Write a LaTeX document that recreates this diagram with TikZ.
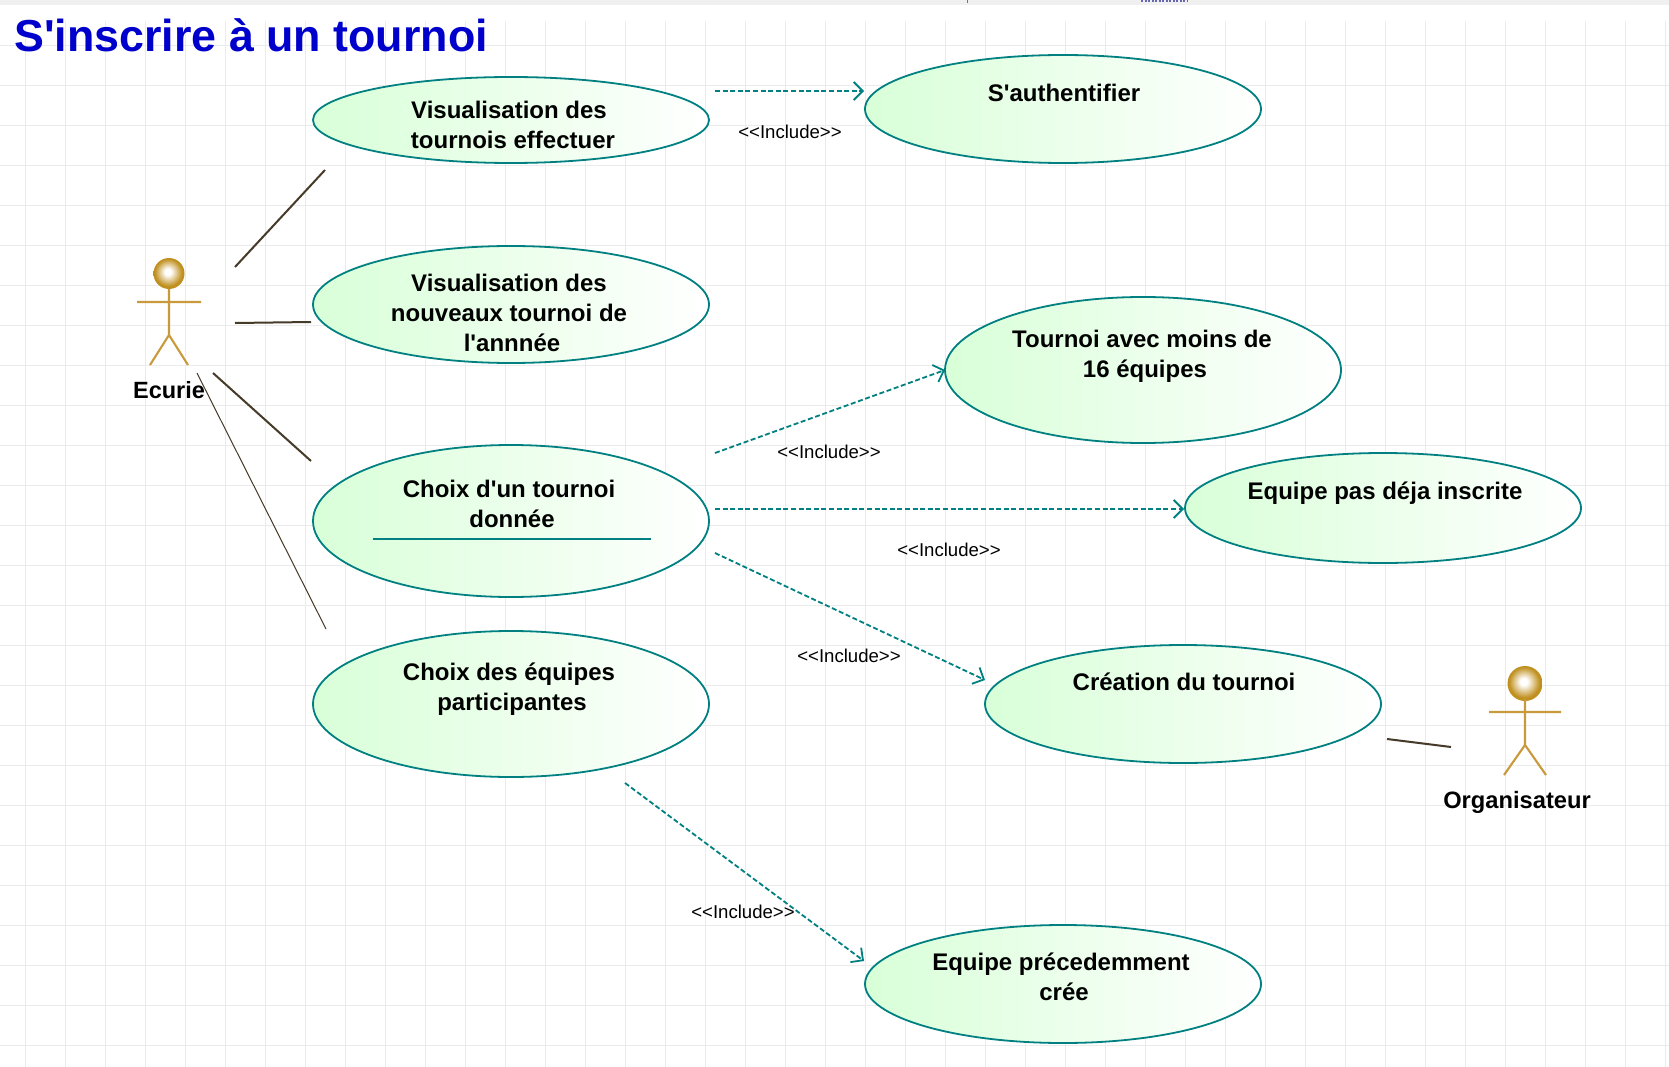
\documentclass[tikz,border=0pt]{standalone}
\usepackage{fontspec}
\setmainfont[Ligatures=TeXOff]{Liberation Sans}
\usetikzlibrary{arrows.meta,shapes.geometric}
\definecolor{teal1}{HTML}{008080}
\definecolor{gridc}{HTML}{EBEBEB}
\definecolor{gold1}{HTML}{C89A3C}
\definecolor{ball1}{HTML}{C0901F}
\definecolor{dark1}{HTML}{463A28}
\definecolor{green1}{HTML}{D8FFD8}
\definecolor{title1}{HTML}{0000CC}
\pgfdeclareradialshading{ballshade}{\pgfpoint{-2bp}{3bp}}{color(0bp)=(white); color(5bp)=(white); color(22bp)=(ball1); color(50bp)=(ball1)}
\tikzset{
  usecase/.style={ellipse,draw=teal1,line width=1.8pt,left color=green1,right color=white,inner sep=0pt},
  utext/.style={font=\fontsize{24}{24}\bfseries\selectfont,text=black,inner sep=0pt,text height=17pt,text depth=5pt},
  inclabel/.style={font=\fontsize{18.6}{18.6}\selectfont,text=black,inner sep=0pt},
  assoc/.style={draw=dark1,line width=2pt},
  assocthin/.style={draw=dark1,line width=1pt},
  incl/.style={draw=teal1,line width=1.8pt,dash pattern=on 5pt off 2.6pt,-{Straight Barb[length=9pt,width=18pt,line width=1.8pt]}},
  actorline/.style={draw=gold1,line width=2.1pt},
  actorhead/.style={circle,draw=none,shading=ballshade,inner sep=0pt},
}
\begin{document}
\begin{tikzpicture}[x=1pt,y=-1pt]
\useasboundingbox (0,0) rectangle (1669,1067);
\fill[white] (0,0) rectangle (1669,1067);
\fill[black!6] (0,0) rectangle (1669,5);
\draw[black!55,line width=0.8pt] (967,0) -- (967,3);
\draw[blue!50!black!60,line width=2pt,dash pattern=on 2pt off 1.5pt] (1141,1) -- (1188,1);
% grid
\foreach \gx in {25,65,...,1665} \draw[gridc,line width=0.8pt] (\gx,21) -- (\gx,1067);
\foreach \gy in {45,85,...,1045} \draw[gridc,line width=0.8pt] (0,\gy) -- (1669,\gy);
% title
\node[anchor=base west,inner sep=0pt,text=title1,font=\fontsize{44.8}{44.8}\bfseries\selectfont] (title) at (14,51.5) {S'inscrire à un tournoi};
% use cases
\node[usecase,minimum width=396pt,minimum height=86pt] (uc1) at (511,120) {};
\node[usecase,minimum width=396pt,minimum height=117pt] (uc2) at (511,304.5) {};
\node[usecase,minimum width=396pt,minimum height=152pt] (uc3) at (511,521) {};
\node[usecase,minimum width=396pt,minimum height=146pt] (uc4) at (511,704) {};
\node[usecase,minimum width=396pt,minimum height=108pt] (uc5) at (1063,109) {};
\node[usecase,minimum width=396pt,minimum height=146pt] (uc6) at (1143,370) {};
\node[usecase,minimum width=396pt,minimum height=110pt] (uc7) at (1383,508) {};
\node[usecase,minimum width=396pt,minimum height=118pt] (uc8) at (1183,704) {};
\node[usecase,minimum width=396pt,minimum height=118pt] (uc9) at (1063,984) {};
% texts
\node[utext] (t1a) at (509,112.5) {Visualisation des};
\node[utext] (t1b) at (513,142.5) {tournois effectuer};
\node[utext] (t2a) at (509,285) {Visualisation des};
\node[utext] (t2b) at (509,315) {nouveaux tournoi de};
\node[utext] (t2c) at (512,345) {l'annnée};
\node[utext] (t3a) at (509,491) {Choix d'un tournoi};
\node[utext] (t3b) at (512,521) {donnée};
\node[utext] (t4a) at (509,674.5) {Choix des équipes};
\node[utext] (t4b) at (512,704.5) {participantes};
\node[utext] (t5) at (1064,95.5) {S'authentifier};
\node[utext] (t6a) at (1142,341) {Tournoi avec moins de};
\node[utext] (t6b) at (1145,371) {16 équipes};
\node[utext] (t7) at (1385,493) {Equipe pas déja inscrite};
\node[utext] (t8) at (1184,684.5) {Création du tournoi};
\node[utext] (t9a) at (1061,964) {Equipe précedemment};
\node[utext] (t9b) at (1064,994) {crée};
% separator
\coordinate (s1) at (373,539); \coordinate (s2) at (651,539);
\draw[teal1,line width=1.6pt] (s1) -- (s2);
% actors
\node[actorhead,minimum size=31pt] (head1) at (169,273.5) {};
\coordinate (n1) at (169,289); \coordinate (h1) at (169,335);
\coordinate (al1) at (137,302); \coordinate (ar1) at (201,302);
\coordinate (fl1) at (150,365); \coordinate (fr1) at (188,365);
\draw[actorline] (n1) -- (h1) (al1) -- (ar1) (fl1) -- (h1) -- (fr1);
\node[font=\fontsize{23.5}{23.5}\bfseries\selectfont,inner sep=0pt,text height=17pt,text depth=5pt] (a1) at (169,392.5) {Ecurie};
\node[actorhead,minimum size=35pt] (head2) at (1525,683.5) {};
\coordinate (n2) at (1525,699); \coordinate (h2) at (1525,745);
\coordinate (al2) at (1489,712); \coordinate (ar2) at (1561,712);
\coordinate (fl2) at (1504,775); \coordinate (fr2) at (1546,775);
\draw[actorline] (n2) -- (h2) (al2) -- (ar2) (fl2) -- (h2) -- (fr2);
\node[font=\fontsize{23.7}{23.7}\bfseries\selectfont,inner sep=0pt,text height=17pt,text depth=5pt] (a2) at (1517,802) {Organisateur};
% associations
\coordinate (e1) at (235,267); \coordinate (e1b) at (325,170);
\coordinate (e2) at (235,323); \coordinate (e2b) at (311,322);
\coordinate (e3) at (213,373); \coordinate (e3b) at (311,461);
\coordinate (e4) at (197,373); \coordinate (e4b) at (326,629);
\coordinate (e5) at (1387,739); \coordinate (e5b) at (1451,747);
\draw[assoc] (e1) -- (e1b);
\draw[assoc] (e2) -- (e2b);
\draw[assoc] (e3) -- (e3b);
\draw[assocthin] (e4) -- (e4b);
\draw[assoc] (e5) -- (e5b);
% includes
\coordinate (d1) at (715,91); \coordinate (d1b) at (864,91);
\coordinate (d2) at (715,453); \coordinate (d2b) at (945,370);
\coordinate (d3) at (715,509); \coordinate (d3b) at (1184,509);
\coordinate (d4) at (715,553); \coordinate (d4b) at (985,680);
\coordinate (d5) at (625,783); \coordinate (d5b) at (864,961);
\draw[incl] (d1) -- (d1b);
\draw[incl] (d2) -- (d2b);
\draw[incl] (d3) -- (d3b);
\draw[incl] (d4) -- (d4b);
\draw[incl] (d5) -- (d5b);
% labels
\node[inclabel] (l1) at (790,132) {<{}<Include>{}>};
\node[inclabel] (l2) at (829,452) {<{}<Include>{}>};
\node[inclabel] (l3) at (949,550) {<{}<Include>{}>};
\node[inclabel] (l4) at (849,656) {<{}<Include>{}>};
\node[inclabel] (l5) at (743,912) {<{}<Include>{}>};
\end{tikzpicture}
\end{document}
